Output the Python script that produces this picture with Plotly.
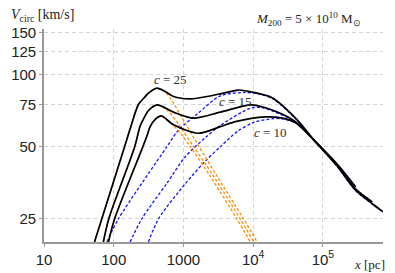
import plotly.graph_objects as go
import math

# ---- data (x in pc, V in km/s) ----
# total circular velocity (black solid)
tot25_x = [53, 67.5, 143, 170, 226, 273, 315, 416, 548, 721, 1253, 2178, 3381, 6120, 9120, 18700, 42750, 73900, 160000, 294000, 511000, 735000]
tot25_y = [20, 25, 50, 58.7, 75, 80, 83.7, 87.8, 85, 81, 79.2, 81, 83.1, 86.2, 84.8, 80, 64.7, 53.4, 41.5, 32.9, 28.9, 26.7]

tot15_x = [71, 85, 200, 239, 273, 315, 420, 721, 1397, 3381, 9500, 20840, 40350, 73900, 160000, 294000, 511000]
tot15_y = [20, 25, 50, 61, 66, 70.8, 74.7, 69.7, 65.8, 69.7, 74.7, 70.3, 63.6, 53.4, 41.9, 33.3, 29.4]

tot10_x = [84, 103, 262, 300, 333, 400, 480, 721, 1633, 3381, 5546, 14960, 26300, 40350, 73900, 160000, 294000]
tot10_y = [20, 25, 50, 55.5, 60.6, 65.3, 67.2, 61.7, 56.9, 60.6, 63.6, 66.6, 65.8, 63.0, 53.4, 42.3, 34.0]

# halo component (blue dashed)
nfw25_x = [79.6, 117, 580, 851, 1630, 3381, 7730, 12000, 18700, 42750, 73900, 160000, 294000, 511000, 735000]
nfw25_y = [20, 25, 50, 58.7, 69, 81.5, 84.2, 83.0, 79.6, 64.5, 53.3, 41.4, 32.8, 28.8, 26.6]

nfw15_x = [172, 253, 580, 1062, 2056, 3381, 9120, 13000, 20000, 40350, 73900, 160000, 294000, 511000]
nfw15_y = [20, 25, 35.2, 45.4, 54.5, 61.3, 72.4, 72.8, 70.0, 63.4, 53.3, 41.8, 33.2, 29.3]

nfw10_x = [315, 439, 1062, 2056, 3381, 6000, 10000, 19300, 26300, 40350, 73900, 160000, 294000]
nfw10_y = [20, 25, 35, 43.5, 50, 58, 63, 65.5, 65.3, 62.8, 53.3, 42.2, 33.9]

# core component (orange dashed)
core25_x = [53, 67.5, 143, 170, 226, 273, 315, 416, 548, 684, 1000, 1594, 3000, 7280, 11380]
core25_y = [20, 25, 50, 58.7, 75, 80, 83.5, 87.5, 84.5, 78, 64.5, 51.3, 37.8, 25, 20]

core15_x = [71, 85, 200, 239, 273, 315, 420, 600, 850, 1397, 2680, 6500, 10160]
core15_y = [20, 25, 50, 61, 66, 70.5, 74.5, 70.5, 62, 50, 37.8, 25, 20]

core10_x = [84, 103, 262, 300, 333, 400, 480, 650, 900, 1253, 2400, 5840, 9120]
core10_y = [20, 25, 50, 55.5, 60.6, 65.2, 67, 63, 57, 50, 37.8, 25, 20]

x_ticks = [10, 100, 1000, 1e4, 1e5]
x_tick_text = ["10", "100", "1000", "10<sup>4</sup>", "10<sup>5</sup>"]
y_ticks = [25, 50, 75, 100, 125, 150]
y_tick_text = ["25", "50", "75", "100", "125", "150"]

fig = go.Figure()

dash_style = "3px,2px"
for xs, ys in [(nfw25_x, nfw25_y), (nfw15_x, nfw15_y), (nfw10_x, nfw10_y)]:
    fig.add_trace(go.Scatter(x=xs, y=ys, mode="lines",
                             line=dict(color="#1414ff", width=1.3, dash=dash_style, shape="spline", smoothing=0.8),
                             hoverinfo="skip", showlegend=False))
for xs, ys in [(core25_x, core25_y), (core15_x, core15_y), (core10_x, core10_y)]:
    fig.add_trace(go.Scatter(x=xs, y=ys, mode="lines",
                             line=dict(color="#ff8c00", width=1.3, dash=dash_style, shape="spline", smoothing=0.8),
                             hoverinfo="skip", showlegend=False))
for xs, ys in [(tot25_x, tot25_y), (tot15_x, tot15_y), (tot10_x, tot10_y)]:
    fig.add_trace(go.Scatter(x=xs, y=ys, mode="lines",
                             line=dict(color="black", width=1.7, shape="spline", smoothing=0.8),
                             hoverinfo="skip", showlegend=False))

serif = "Liberation Serif"
ann = [
    dict(text="<i>c</i> = 25", x=2.8175, y=1.9782, xref="x", yref="y"),
    dict(text="<i>c</i> = 15", x=3.744, y=1.8875, xref="x", yref="y"),
    dict(text="<i>c</i> = 10", x=4.254, y=1.7585, xref="x", yref="y"),
]
for a in ann:
    a.update(showarrow=False, font=dict(family=serif, size=13, color="#333"),
             xanchor="center", yanchor="middle")
ann.append(dict(text="<i>V</i><sub>circ</sub> [km/s]", x=-0.104, y=1.064, xref="paper", yref="paper",
                showarrow=False, xanchor="left", yanchor="middle",
                font=dict(family=serif, size=14, color="#222")))
ann.append(dict(text="<i>M</i><sub>200</sub> = 5 × 10<sup>10</sup> M<sub>⊙</sub>", x=0.7795, y=1.0485,
                xref="paper", yref="paper", showarrow=False, xanchor="center", yanchor="middle",
                font=dict(family=serif, size=13, color="#222")))
ann.append(dict(text="<i>x</i> [pc]", x=1.012, y=-0.105, xref="paper", yref="paper",
                showarrow=False, xanchor="right", yanchor="middle",
                font=dict(family=serif, size=13, color="#222")))

grid = dict(showgrid=True, gridcolor="#d4d4d4", gridwidth=1, griddash="4px,3px")
# the page body adds an 8px offset, so the figure is 8px smaller and its left/top margins 8px less
fig.update_layout(
    width=387, height=265,
    margin=dict(l=36, r=12, t=21, b=31, autoexpand=False),
    paper_bgcolor="white", plot_bgcolor="white",
    annotations=ann,
    xaxis=dict(type="log", range=[1, 5.862], tickvals=x_ticks, ticktext=x_tick_text,
               showline=True, linecolor="#999", linewidth=1.6, ticks="outside", ticklen=3,
               tickcolor="#999", zeroline=False, automargin=False,
               tickfont=dict(family="Liberation Sans", size=15, color="#222"), **grid),
    yaxis=dict(type="log", range=[math.log10(20), 2.1903], tickvals=y_ticks, ticktext=y_tick_text,
               showline=True, linecolor="#999", linewidth=1.6, ticks="outside", ticklen=3,
               tickcolor="#999", zeroline=False, automargin=False,
               tickfont=dict(family="Liberation Sans", size=15, color="#222"), **grid),
)

fig.write_html("out.html")
